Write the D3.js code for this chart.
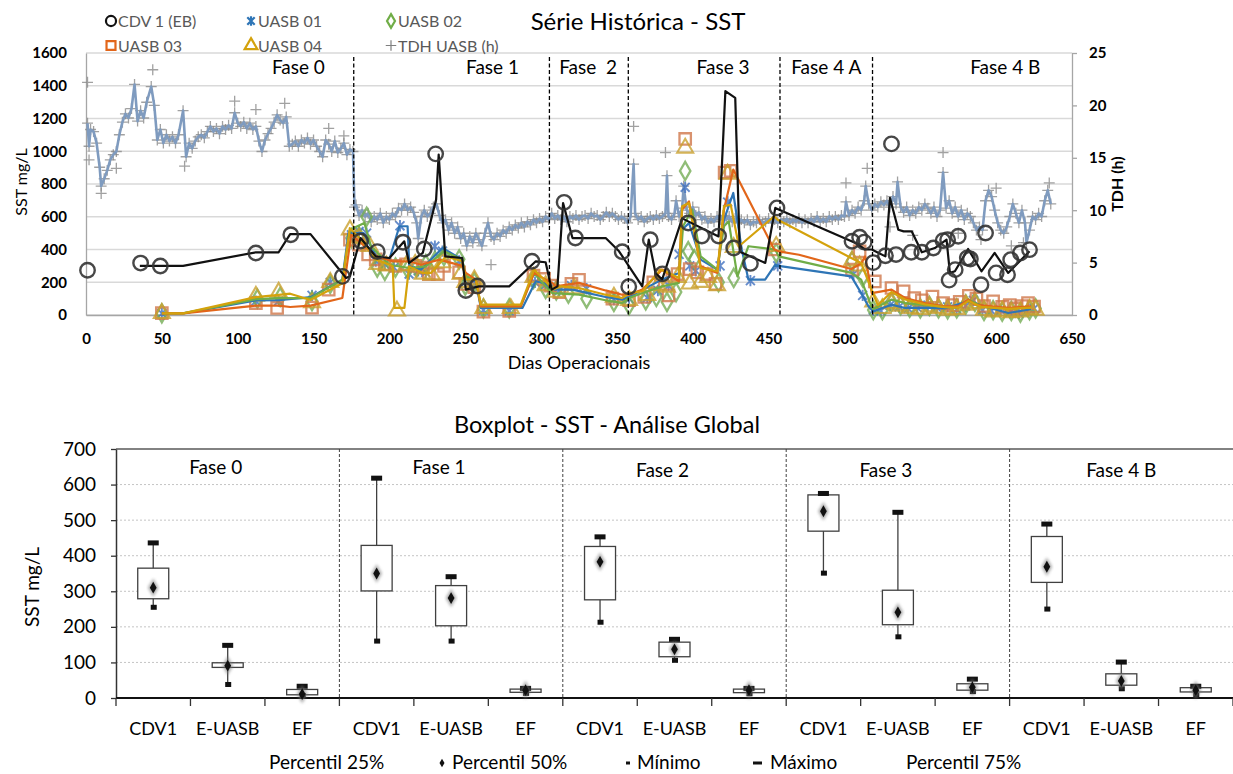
<!DOCTYPE html>
<html>
<head>
<meta charset="utf-8">
<script src="https://cdn.jsdelivr.net/npm/d3@7"></script>
<style>
  body { margin: 0; background: #fff; }
  svg { display: block; font-family: Lato, "Open Sans", "Liberation Sans", sans-serif; }
</style>
</head>
<body>
<svg id="chart" width="1233" height="774"></svg>
<script>
// ---------- Série histórica: SST (mg/L) por dia operacional ----------
const dayTicks = d3.range(0, 651, 50);
const sstTicks = d3.range(0, 1601, 200);
const tdhTicks = d3.range(0, 26, 5);

const phaseBounds = [176.5, 305.5, 357.5, 457.5, 518.5];
const phaseNamesTop = ["Fase 0", "Fase 1", "Fase  2", "Fase 3", "Fase 4 A", "Fase 4 B"];

// CDV 1 (EB): pontos medidos
const cdvPoints = [[1,273],[36,317],[49,299],[112,379],[135,490],[169,236],[181,452],[192,387],[209,444],
  [223,403],[230.5,984],[250.4,150],[258,177],[294,328],[315.2,688],[322.6,470],[353.5,386],[357.8,173],
  [372,460],[380,251],[397,562],[406,482],[417,482],[427,409],[438,315],[455.5,654],[505,450],[510,475],
  [513,445],[519,320],[527,362],[531,1045],[534,369],[544,383],[551,383],[558.6,409],[565,454],[568,460],
  [569,213],[573,277],[575,481],[581,348],[583,342],[590,185],[593,501],[600,257],[607.5,246],[609.6,338],
  [616,379],[622,399]];
// CDV 1 (EB): média móvel
const cdvTrend = [[35.5,300],[64,300],[112,383],[127,383],[134.6,494],[148,494],[171.5,226],[174,236],[181,470],
  [191,358],[200,348],[209.8,450],[213,318],[222,379],[230.8,705],[232.5,980],[236.8,358],[248,348],[250.4,155],
  [259,175],[279,175],[296.5,328],[303,322],[307,155],[310.8,175],[314.5,684],[320.7,470],[342.6,470],[351.4,389],
  [366.7,175],[371,460],[375.4,257],[379.8,216],[393,590],[417,480],[421.5,1367],[428,1326],[431,386],[447.8,318],
  [454.4,654],[456.6,644],[507.3,440],[513.6,400],[518,400],[527,358],[530,715],[535.5,521],[539,511],[544.3,511],
  [551,383],[559.6,409],[567.3,460],[569.5,257],[572.8,267],[581.5,403],[590.3,267],[599,379],[607.9,257],[622,389]];

// UASB 01
const uasb01Points = [[50,10],[112,85],[127,85],[149,120],[161,200],[175,490],[180,510],[185,500],[191,330],
  [197,310],[203,290],[207,545],[213,250],[219,270],[224,260],[230,420],[235,390],[246,330],[250,200],[256,190],
  [262,30],[279,25],[296,200],[303,185],[307,170],[312,150],[320,180],[330,160],[348,95],[358,100],[370,105],
  [377,150],[384,180],[391,370],[395,780],[398,300],[402,270],[418,300],[423,690],[438,210],[456,300],[506,250],
  [512,120],[519,30],[524,25],[530,60],[536,50],[542,40],[548,45],[555,60],[561,45],[568,50],[574,35],[580,55],
  [585,90],[591,30],[597,25],[603,30],[609,15],[615,10],[620,25],[625,40]];
const uasb01Trend = [[50,10],[64,10],[112,89],[127,90],[148,109],[169,216],[173,500],[183,500],[192,350],[200,340],
  [206.6,542],[212,542],[213.1,297],[220.8,277],[235,409],[248,338],[250.4,216],[257,206],[260.3,43],[287.7,43],
  [296.5,206],[303,191],[307.5,155],[320.6,155],[342.5,110],[353.5,94],[358,110],[366.8,155],[379.8,216],
  [390.8,257],[393,521],[397.5,562],[405.2,338],[416.2,277],[420.6,582],[426.7,745],[432.3,399],[436.7,216],
  [447.7,216],[454.4,307],[456.6,300],[504.5,236],[511,134],[515.8,53],[519,22],[531,63],[540,43],[553,45],
  [566,40],[581.6,83],[597,40],[608,12],[623,35]];

// UASB 02
const uasb02Points = [[50,10],[113,100],[128,110],[149,85],[161,190],[175,470],[180,480],[185,600],[192,290],
  [197,270],[204,290],[212,280],[218,290],[224,310],[230,330],[236,360],[246,340],[250,180],[256,200],[262,40],
  [279,40],[295,220],[303,160],[310,150],[318,130],[330,100],[348,80],[358,60],[369,90],[376,110],[383,80],
  [389,140],[395,880],[397,390],[401,340],[417,200],[427,226],[455,380],[505,330],[512,230],[519,30],[525,30],
  [531,80],[537,60],[543,45],[550,40],[556,55],[562,40],[568,35],[574,40],[580,65],[586,80],[592,25],[598,30],
  [604,20],[610,25],[616,15],[622,30],[626,40]];
const uasb02Trend = [[50,10],[64,10],[112,97],[127,103],[148,103],[169,216],[174,520],[183.5,562],[187.9,420],
  [200,307],[213,287],[224,297],[236,389],[248,338],[250.4,236],[257,216],[260.3,53],[286.6,53],[295.4,257],
  [303,175],[307.5,134],[325,124],[342.5,90],[353.5,73],[358,104],[366.8,134],[379.8,175],[390.8,196],
  [393.6,542],[399.6,644],[405.2,358],[416.2,277],[420.6,542],[423.7,572],[429.4,236],[436.7,420],[454.4,400],
  [456.6,358],[504.5,257],[511,216],[517.8,53],[519,37],[531,94],[540,73],[553,60],[566,50],[575,45],
  [581.6,94],[590,55],[597,45],[608,40],[623,45]];

// UASB 03
const uasb03Points = [[50,12],[112,73],[126,43],[149,45],[160,155],[174,460],[180,430],[186,370],[191,340],
  [197,310],[204,300],[211,310],[217,300],[222,290],[226,250],[232,250],[236,300],[246,260],[250,190],[256,170],
  [262,20],[279,25],[295,240],[302,220],[306,180],[312,140],[320,190],[325,215],[347,100],[358,90],[368,110],
  [374,200],[379,240],[384,120],[390,250],[395,1075],[398,280],[403,260],[409,250],[415,190],[421,870],[425,880],
  [454,400],[505,277],[510,389],[520,205],[531,165],[539,144],[546,103],[551,90],[558,113],[565,73],[571,60],
  [576,80],[582,117],[587,100],[592,55],[598,83],[604,50],[609,60],[613,40],[617,55],[621,73],[625,52]];
const uasb03Trend = [[50,10],[64,10],[112,57],[127,57],[134.6,49],[148,57],[169,104],[174.8,490],[182.5,430],
  [191.2,358],[202.2,328],[213,328],[220.8,307],[232.9,338],[248,300],[250.4,257],[257,216],[260.3,53],
  [286.6,53],[295.4,257],[303,216],[307.5,196],[309.6,175],[325,196],[342.5,150],[353.5,124],[358,124],
  [366.8,155],[379.8,277],[390.8,206],[393,644],[397.5,694],[405.2,297],[416.2,257],[420.6,644],[426.7,888],
  [453.7,400],[456.6,389],[470,368],[504.5,281],[511,314],[513.6,358],[518,134],[531,155],[540,104],[553,73],
  [566,53],[575,53],[581.6,94],[586,63],[597,53],[608,43],[623,53]];

// UASB 04
const uasb04Points = [[50,10],[112,115],[127,140],[149,75],[161,200],[174,520],[180,470],[187,420],[192,310],
  [198,300],[205,25],[211,300],[217,310],[222,250],[228,245],[235,320],[247,250],[250,200],[256,215],[262,40],
  [280,40],[295,230],[303,180],[310,140],[322,160],[348,110],[358,90],[370,120],[377,180],[383,170],[390,230],
  [395,1020],[398,190],[405,200],[410,230],[416,180],[423,860],[427,413],[455,420],[505,330],[510,300],[519,80],
  [525,40],[531,70],[537,55],[543,40],[550,35],[556,50],[562,40],[568,30],[574,35],[580,60],[586,70],[592,30],
  [598,20],[604,25],[610,15],[616,20],[622,35],[626,30]];
const uasb04Trend = [[50,10],[64,10],[112,109],[127,123],[134.6,130],[148,92],[169,194],[173.9,530],[182.5,450],
  [191.2,338],[200,307],[202.2,297],[203.3,43],[209.9,43],[213,297],[221.9,257],[227.4,257],[237.3,358],[248,328],
  [250.4,216],[257,216],[260.3,63],[286.6,63],[295.4,277],[303,206],[307.5,155],[313,175],[325,165],[342.5,124],
  [353.5,104],[358,134],[366.8,145],[378.8,277],[384.2,257],[390.8,226],[393,664],[397.5,684],[405.2,287],
  [416.2,267],[420.6,664],[425,674],[430.4,420],[453.7,603],[456,582],[504.5,348],[511,318],[517.8,155],[522,60],
  [531,140],[540,95],[553,65],[566,48],[575,45],[581.6,85],[590,50],[597,45],[608,38],[623,45]];

// TDH UASB (h)
const tdhSeries = [[1,18.3],[2,16.1],[3,17.7],[5,17.5],[7,16.4],[9,14.1],[10,12.3],[12,13.0],[14,13.8],[16,14.8],
  [18,15.3],[20,15.6],[22,17.2],[24,18.4],[26,19.2],[28,18.8],[30,19.7],[32,22.0],[34,18.5],[36,19.5],[38,18.8],
  [40,20.3],[43,21.8],[45,20.0],[47,16.7],[49,17.7],[51,16.4],[53,17.2],[55,16.6],[57,17.0],[59,16.4],[61,17.2],
  [64,19.5],[66,15.1],[68,16.4],[70,15.9],[72,16.6],[74,17.0],[76,17.2],[78,16.9],[80,17.5],[82,18.0],[84,17.5],
  [86,17.8],[88,17.3],[90,18.0],[92,17.7],[94,18.1],[96,17.8],[98,19.3],[100,18.3],[102,18.0],[104,18.4],
  [106,17.8],[108,18.3],[110,17.7],[112,18.0],[114,16.6],[116,15.6],[118,16.7],[120,17.3],[122,17.8],[124,18.4],
  [126,19.1],[128,18.6],[130,18.3],[132,18.9],[134,16.1],[136,16.3],[138,16.6],[140,16.1],[142,16.7],[144,16.4],
  [146,16.9],[148,16.3],[150,16.7],[152,16.1],[154,15.6],[156,15.1],[158,16.7],[160,16.3],[162,15.6],[164,16.6],
  [166,15.5],[168,15.9],[170,16.4],[172,15.3],[174,15.8],[176,15.6],[177,10.3],[178,10.5],[180,9.5],[182,10.0],
  [184,9.4],[186,9.7],[188,8.9],[190,9.4],[192,9.1],[194,9.7],[196,8.8],[198,9.4],[200,9.1],[202,9.7],[204,9.4],
  [206,10.2],[208,10.0],[210,10.6],[212,10.0],[214,10.3],[216,9.8],[218,8.8],[219,7.3],[221,9.4],[223,10.0],
  [225,9.4],[227,9.7],[229,10.3],[231,10.6],[233,9.5],[235,8.8],[237,9.1],[239,8.1],[241,8.8],[243,7.8],[245,8.4],
  [247,7.3],[249,7.8],[251,6.6],[253,7.5],[255,6.9],[257,7.8],[259,7.2],[261,6.6],[263,7.8],[265,8.8],[267,7.5],
  [269,7.2],[271,7.8],[273,7.5],[275,8.1],[277,7.8],[279,8.4],[281,8.1],[283,8.6],[285,8.3],[287,8.8],[289,8.4],
  [291,8.9],[293,8.6],[295,9.1],[297,8.8],[299,9.2],[301,8.9],[303,9.4],[305,9.1],[307,9.7],[309,9.2],[311,9.5],
  [313,9.1],[315,9.4],[317,8.9],[319,9.4],[321,9.2],[323,9.5],[325,9.1],[327,9.4],[329,9.5],[331,9.2],[333,9.7],
  [335,9.4],[337,9.5],[339,9.1],[341,9.4],[343,9.8],[345,9.4],[347,9.7],[349,9.4],[351,9.1],[353,9.4],[355,9.2],
  [357,8.8],[359,9.4],[361,14.4],[362,9.7],[364,9.1],[366,9.4],[368,8.9],[370,9.2],[372,9.4],[374,9.1],[376,9.5],
  [378,9.2],[380,9.4],[382,9.7],[383,13.3],[384,9.4],[386,9.1],[388,9.7],[389,10.9],[391,9.4],[393,10.2],
  [394,12.3],[396,10.0],[398,9.7],[400,10.3],[402,9.5],[404,9.8],[406,9.1],[408,9.4],[410,8.8],[412,9.2],
  [414,8.9],[416,9.4],[418,9.1],[420,9.5],[422,9.1],[424,9.4],[426,8.9],[428,9.2],[430,8.8],[432,9.1],[434,8.8],
  [436,9.1],[438,8.6],[440,8.9],[442,8.8],[444,9.1],[446,8.8],[448,8.9],[450,9.2],[452,8.8],[454,9.1],[456,8.8],
  [458,9.1],[460,8.9],[462,9.2],[464,8.8],[466,9.1],[468,8.9],[470,9.2],[472,8.8],[474,9.1],[476,8.8],[478,9.2],
  [480,8.9],[482,9.4],[484,8.9],[486,9.2],[488,8.9],[490,9.4],[492,9.1],[494,9.4],[496,9.1],[498,9.5],[500,9.4],
  [501,10.8],[503,9.5],[505,10.0],[507,9.7],[509,10.3],[511,10.0],[513,10.9],[514,12.3],[516,10.6],[518,10.0],
  [520,10.6],[522,10.3],[524,10.8],[526,10.5],[528,10.9],[530,10.3],[532,11.3],[534,10.6],[535,12.7],[537,10.3],
  [539,9.8],[541,10.3],[543,9.5],[545,10.0],[547,9.7],[549,10.3],[551,10.0],[553,10.6],[555,10.2],[557,9.7],
  [559,10.3],[561,9.4],[563,10.0],[565,13.6],[567,10.2],[569,10.9],[571,9.7],[573,10.3],[575,9.4],[577,10.0],
  [579,9.1],[581,9.7],[583,9.4],[585,8.8],[587,8.1],[589,8.4],[591,8.1],[593,10.9],[595,11.9],[597,11.3],
  [599,10.0],[601,8.8],[603,8.1],[605,7.8],[607,8.4],[609,9.4],[611,10.6],[613,9.7],[615,8.8],[617,10.0],
  [619,8.8],[620,6.9],[622,8.1],[624,9.4],[626,9.1],[628,9.7],[630,9.4],[632,10.9],[634,11.9],[636,10.6]];
// TDH: leituras isoladas fora da faixa da curva
const tdhExtra = [[1,22.2],[2,14.8],[10,11.6],[20,14.0],[44,23.4],[65,14.2],[98,20.4],[112,19.6],[131,20.2],
  [160,17.8],[170,17.1],[267,4.8],[361,18.0],[382,15.5],[501,12.6],[515,14.0],[530,8.4],[545,7.6],[565,15.5],
  [575,7.8],[590,7.2],[600,12.1],[610,6.6],[618,6.9],[635,12.6]];

// ---------- Boxplot: SST - análise global ----------
const boxPhases = ["Fase 0", "Fase 1", "Fase 2", "Fase 3", "Fase 4 B"];
const boxGroups = ["CDV1", "E-UASB", "EF"];
const boxMin    = [255, 38, 7,   160, 160, 13,  213, 106, 12,  351, 172, 18,  250, 26, 8];
const boxQ1     = [279, 86, 9,   301, 203, 16,  276, 116, 15,  469, 206, 22,  325, 36, 17];
const boxMedian = [310, 91, 11,  350, 281, 22,  383, 137, 22,  525, 241, 30,  369, 48, 22];
const boxQ3     = [365, 99, 24,  429, 316, 25,  426, 157, 25,  571, 303, 40,  454, 68, 29];
const boxMax    = [436, 148, 33, 618, 341, 27,  453, 165, 27,  575, 522, 53,  489, 101, 33];
const boxTicks  = d3.range(0, 701, 100);

// ---------- layout ----------
const layout = {
  phaseLabelDays: [140, 268, 331, 420, 488, 606],
  topLegend: [
    {key: "cdv", label: "CDV 1 (EB)", x: 111, y: 21},
    {key: "u1", label: "UASB 01", x: 251, y: 21},
    {key: "u2", label: "UASB 02", x: 391, y: 21},
    {key: "u3", label: "UASB 03", x: 111, y: 45.5},
    {key: "u4", label: "UASB 04", x: 251, y: 45.5},
    {key: "tdh", label: "TDH UASB (h)", x: 391, y: 45.5}
  ]
};

const svg = d3.select("#chart");

// custom marker shapes
const symAsterisk = { draw(ctx, size) {
  const r = Math.sqrt(size) / 2, a = r * 0.78;
  ctx.moveTo(0, -r); ctx.lineTo(0, r);
  ctx.moveTo(-a, -a); ctx.lineTo(a, a);
  ctx.moveTo(-a, a); ctx.lineTo(a, -a);
}};
const symPlus = { draw(ctx, size) {
  const r = Math.sqrt(size) / 2;
  ctx.moveTo(-r, 0); ctx.lineTo(r, 0);
  ctx.moveTo(0, -r); ctx.lineTo(0, r);
}};

const style = {
  cdv: {line: "#111", stroke: "#333", sym: d3.symbolCircle, size: 165, sw: 2.4, legendSize: 80},
  u1: {line: "#2E75B6", stroke: "#3F6FBF", sym: symAsterisk, size: 130, sw: 1.9, legendSize: 90},
  u2: {line: "#70AD47", stroke: "#74AC55", sym: d3.symbolDiamond, size: 95, sw: 2.3, legendSize: 55},
  u3: {line: "#E2661A", stroke: "#D0774A", sym: d3.symbolSquare, size: 130, sw: 2.3, legendSize: 80},
  u4: {line: "#D4A20C", stroke: "#C9A02E", sym: d3.symbolTriangle, size: 110, sw: 2.1, legendSize: 70},
  tdh: {line: "#7F9BBF", stroke: "#8a8a8a", sym: symPlus, size: 120, sw: 1.3, legendSize: 110}
};

// ================= top chart =================
const x = d3.scaleLinear().domain([0, 650]).range([86, 1072]);
const y = d3.scaleLinear().domain([0, 1600]).range([315, 53]);
const y2 = d3.scaleLinear().domain([0, 25]).range([315, 53]);

const gTop = svg.append("g");

gTop.append("g").selectAll("line").data(sstTicks).join("line")
  .attr("x1", x(0)).attr("x2", x(650))
  .attr("y1", d => y(d)).attr("y2", d => y(d))
  .attr("stroke", "#d9d9d9").attr("stroke-width", 1.5);

const axL = gTop.append("g").attr("transform", `translate(${x(0)},0)`)
  .call(d3.axisLeft(y).tickValues(sstTicks).tickFormat(d3.format("d")).tickSize(0).tickPadding(19));
const axR = gTop.append("g").attr("transform", `translate(${x(650)},0)`)
  .call(d3.axisRight(y2).tickValues(tdhTicks).tickFormat(d3.format("d")).tickSize(5).tickSizeOuter(0).tickPadding(12));
const axB = gTop.append("g").attr("transform", `translate(0,${y(0)})`)
  .call(d3.axisBottom(x).tickValues(dayTicks).tickFormat(d3.format("d")).tickSize(0).tickPadding(18));
[axL, axR, axB].forEach(a => {
  a.select(".domain").attr("stroke", "#a6a6a6").attr("stroke-width", 1.3);
  a.selectAll(".tick line").attr("stroke", "#a6a6a6").attr("stroke-width", 1.3);
  a.selectAll("text").attr("font-size", 15).attr("font-weight", "bold").attr("fill", "#000")
    .attr("font-family", "Lato, sans-serif");
});

const line = d3.line().x(d => x(d[0])).y(d => y(d[1]));
const lineH = d3.line().x(d => x(d[0])).y(d => y2(d[1]));

function drawMarkers(g, data, key, yScale) {
  const s = style[key];
  g.append("g").selectAll("path").data(data).join("path")
    .attr("transform", d => `translate(${x(d[0])},${yScale(d[1])})`)
    .attr("d", d3.symbol().type(s.sym).size(s.size))
    .attr("fill", "none").attr("stroke", s.stroke).attr("stroke-width", s.sw)
    .attr("stroke-opacity", key === "cdv" ? 0.9 : 0.8);
}

// TDH (eixo secundário)
drawMarkers(gTop, tdhSeries, "tdh", y2);
drawMarkers(gTop, tdhExtra, "tdh", y2);
gTop.append("path").datum(tdhSeries).attr("d", lineH)
  .attr("fill", "none").attr("stroke", style.tdh.line).attr("stroke-width", 2.6).attr("stroke-linejoin", "round");

// UASB series
const uasb = [
  {key: "u1", pts: uasb01Points, trend: uasb01Trend},
  {key: "u2", pts: uasb02Points, trend: uasb02Trend},
  {key: "u3", pts: uasb03Points, trend: uasb03Trend},
  {key: "u4", pts: uasb04Points, trend: uasb04Trend}
];
uasb.forEach(s => drawMarkers(gTop, s.pts, s.key, y));
uasb.forEach(s => gTop.append("path").datum(s.trend).attr("d", line)
  .attr("fill", "none").attr("stroke", style[s.key].line).attr("stroke-width", 2.2).attr("stroke-linejoin", "round"));

// CDV 1
gTop.append("path").datum(cdvTrend).attr("d", line)
  .attr("fill", "none").attr("stroke", style.cdv.line).attr("stroke-width", 2.2).attr("stroke-linejoin", "round");
drawMarkers(gTop, cdvPoints, "cdv", y);

// phase dividers and names
gTop.append("g").selectAll("line").data(phaseBounds).join("line")
  .attr("x1", d => x(d)).attr("x2", d => x(d)).attr("y1", 57).attr("y2", y(0))
  .attr("stroke", "#000").attr("stroke-width", 1.3).attr("stroke-dasharray", "4,2.5");
gTop.append("g").selectAll("text").data(phaseNamesTop).join("text")
  .attr("x", (d, i) => x(layout.phaseLabelDays[i])).attr("y", 74)
  .attr("text-anchor", "middle").attr("font-size", 19).attr("fill", "#000")
  .style("white-space", "pre").text(d => d);

// titles
svg.append("text").attr("x", 638).attr("y", 30).attr("text-anchor", "middle")
  .attr("font-size", 24).attr("fill", "#000").text("Série Histórica - SST");
svg.append("text").attr("x", 579).attr("y", 369).attr("text-anchor", "middle")
  .attr("font-size", 18).attr("fill", "#000").text("Dias Operacionais");
svg.append("text").attr("transform", "translate(27,182) rotate(-90)").attr("text-anchor", "middle")
  .attr("font-size", 16).attr("fill", "#000").text("SST mg/L");
svg.append("text").attr("transform", "translate(1123,184) rotate(-90)").attr("text-anchor", "middle")
  .attr("font-size", 16).attr("font-weight", "bold").attr("fill", "#000").text("TDH (h)");

// legend
const gLeg = svg.append("g");
layout.topLegend.forEach(it => {
  const s = style[it.key];
  gLeg.append("path").attr("transform", `translate(${it.x},${it.y})`)
    .attr("d", d3.symbol().type(s.sym).size(s.legendSize))
    .attr("fill", "none").attr("stroke", it.key === "tdh" ? "#7f7f7f" : (it.key === "cdv" ? "#111" : s.line))
    .attr("stroke-width", it.key === "tdh" ? 1.2 : 2.2);
  gLeg.append("text").attr("x", it.x + 7).attr("y", it.y + 6)
    .attr("font-size", 16).attr("fill", "#595959").text(it.label);
});

// ================= boxplot =================
const nCat = boxPhases.length * boxGroups.length;
const xb = d3.scaleBand().domain(d3.range(nCat)).range([116, 1233]);
const yb = d3.scaleLinear().domain([0, 700]).range([698, 449]);
const bw = xb.bandwidth();
const gBox = svg.append("g");

gBox.append("g").selectAll("line").data(boxTicks.filter(t => t > 0 && t < 700)).join("line")
  .attr("x1", 116).attr("x2", 1233).attr("y1", d => yb(d)).attr("y2", d => yb(d))
  .attr("stroke", "#c4c4c4").attr("stroke-width", 1).attr("stroke-dasharray", "2,2");
gBox.append("line").attr("x1", 116).attr("x2", 1233).attr("y1", yb(700)).attr("y2", yb(700))
  .attr("stroke", "#595959").attr("stroke-width", 1.3);

const axBL = gBox.append("g").attr("transform", "translate(116,0)")
  .call(d3.axisLeft(yb).tickValues(boxTicks).tickSize(5).tickSizeOuter(0).tickPadding(15));
axBL.select(".domain").attr("stroke", "#333").attr("stroke-width", 1.5);
axBL.selectAll(".tick line").attr("stroke", "#333").attr("stroke-width", 1.3);
axBL.selectAll("text").attr("font-size", 19).attr("fill", "#000").attr("font-family", "Lato, sans-serif");

// x axis
gBox.append("line").attr("x1", 116).attr("x2", 1233).attr("y1", yb(0)).attr("y2", yb(0))
  .attr("stroke", "#111").attr("stroke-width", 2);
gBox.append("g").selectAll("line").data(d3.range(nCat + 1)).join("line")
  .attr("x1", i => 116 + i * bw).attr("x2", i => 116 + i * bw)
  .attr("y1", yb(0)).attr("y2", yb(0) + 8).attr("stroke", "#333").attr("stroke-width", 1.3);
gBox.append("g").selectAll("text").data(d3.range(nCat)).join("text")
  .attr("x", i => xb(i) + bw / 2).attr("y", 735).attr("text-anchor", "middle")
  .attr("font-size", 18).attr("fill", "#000").text(i => boxGroups[i % boxGroups.length]);

// phase separators and names
gBox.append("g").selectAll("line").data(d3.range(1, boxPhases.length)).join("line")
  .attr("x1", p => xb(p * 3)).attr("x2", p => xb(p * 3)).attr("y1", yb(700)).attr("y2", yb(0))
  .attr("stroke", "#404040").attr("stroke-width", 1).attr("stroke-dasharray", "3,2");
gBox.append("g").selectAll("text").data(boxPhases).join("text")
  .attr("x", (d, p) => xb(p * 3 + 1) + bw / 2 - (p === 4 ? 0 : 12)).attr("y", (d, p) => p < 2 ? 474 : 477)
  .attr("text-anchor", "middle").attr("font-size", 19).attr("fill", "#000").text(d => d);

// boxes
const blur = svg.append("defs").append("filter").attr("id", "soft");
blur.append("feGaussianBlur").attr("stdDeviation", 1.4);

const boxes = gBox.append("g").selectAll("g").data(d3.range(nCat)).join("g")
  .attr("transform", i => `translate(${xb(i) + bw / 2},0)`);
boxes.append("line").attr("y1", i => yb(boxMin[i])).attr("y2", i => yb(boxMax[i]))
  .attr("stroke", "#404040").attr("stroke-width", 1.3);
boxes.append("rect").attr("x", -15.5).attr("width", 31)
  .attr("y", i => yb(boxQ3[i])).attr("height", i => yb(boxQ1[i]) - yb(boxQ3[i]))
  .attr("fill", "#fff").attr("stroke", "#404040").attr("stroke-width", 1.3);
boxes.append("rect").attr("x", -5.5).attr("width", 11).attr("height", 5)
  .attr("y", i => yb(boxMax[i]) - 2.5).attr("fill", "#111");
boxes.append("rect").attr("x", -2.5).attr("width", 6).attr("height", 5)
  .attr("y", i => yb(boxMin[i]) - 2.5).attr("fill", "#111");
boxes.append("path").attr("transform", i => `translate(0,${yb(boxMedian[i])})`)
  .attr("d", d3.symbol().type(d3.symbolDiamond).size(100)).attr("fill", "#777").attr("opacity", 0.6)
  .attr("filter", "url(#soft)");
boxes.append("path").attr("transform", i => `translate(0,${yb(boxMedian[i])})`)
  .attr("d", d3.symbol().type(d3.symbolDiamond).size(40)).attr("fill", "#111");

// boxplot titles
svg.append("text").attr("x", 607).attr("y", 433).attr("text-anchor", "middle")
  .attr("font-size", 23.5).attr("fill", "#000").text("Boxplot - SST - Análise Global");
svg.append("text").attr("transform", "translate(39,587) rotate(-90)").attr("text-anchor", "middle")
  .attr("font-size", 19).attr("fill", "#000").text("SST mg/L");

// boxplot legend
const gBL = svg.append("g").attr("font-size", 19).attr("fill", "#000");
gBL.append("text").attr("x", 269).attr("y", 769).text("Percentil 25%");
gBL.append("path").attr("transform", "translate(442,763)").attr("d", d3.symbol().type(d3.symbolDiamond).size(22)).attr("fill", "#111");
gBL.append("text").attr("x", 452).attr("y", 769).text("Percentil 50%");
gBL.append("rect").attr("x", 626).attr("y", 761.5).attr("width", 4).attr("height", 3).attr("fill", "#111");
gBL.append("text").attr("x", 637).attr("y", 769).text("Mínimo");
gBL.append("rect").attr("x", 753).attr("y", 761.5).attr("width", 9).attr("height", 3).attr("fill", "#111");
gBL.append("text").attr("x", 770).attr("y", 769).text("Máximo");
gBL.append("text").attr("x", 906).attr("y", 769).text("Percentil 75%");
</script>
</body>
</html>
